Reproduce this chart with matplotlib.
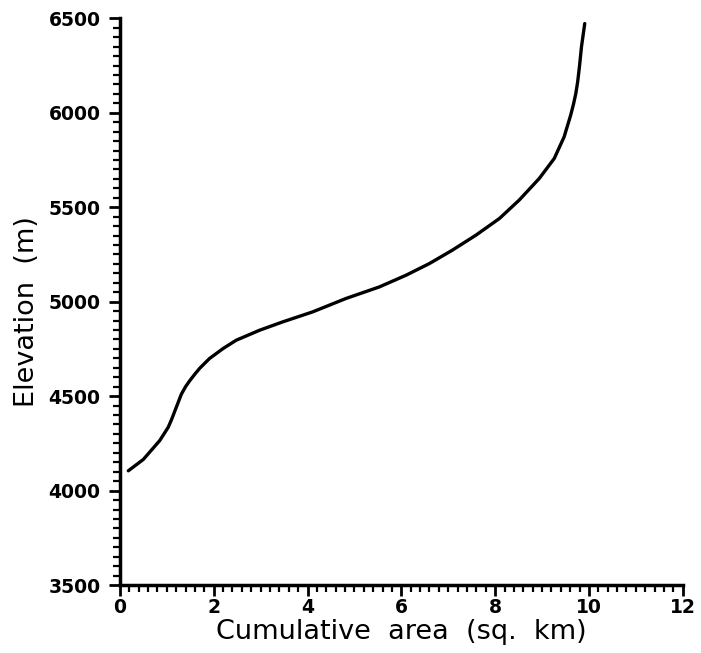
import matplotlib
matplotlib.use("Agg")
import matplotlib.pyplot as plt
from matplotlib.ticker import MultipleLocator

# hypsometric curve
area_km2 = [0.18, 0.50, 0.64, 0.85, 1.03, 1.10, 1.17, 1.24, 1.31, 1.40, 1.49,
            1.60, 1.70, 1.91, 2.20, 2.48, 2.98, 3.47, 4.11, 4.82, 5.53, 6.10,
            6.60, 7.09, 7.59, 8.09, 8.51, 8.94, 9.26, 9.47, 9.61, 9.67, 9.72,
            9.76, 9.80, 9.84, 9.91]
elevation_m = [4105, 4165, 4205, 4265, 4335, 4375, 4420, 4465, 4510, 4550, 4582,
               4617, 4647, 4699, 4752, 4796, 4849, 4893, 4946, 5017, 5078, 5140,
               5202, 5273, 5352, 5440, 5537, 5652, 5758, 5872, 5987, 6045, 6102,
               6165, 6250, 6348, 6472]

x_ticks = [0, 2, 4, 6, 8, 10, 12]
y_ticks = [3500, 4000, 4500, 5000, 5500, 6000, 6500]

plt.rcParams["font.family"] = ["DejaVu Sans"]
plt.rcParams["font.weight"] = "bold"

fig = plt.figure(figsize=(7.01, 6.53), dpi=100)
ax = fig.add_axes([0.171, 0.104, 0.803, 0.868])

ax.plot(area_km2, elevation_m, color="black", lw=2.4,
        solid_capstyle="round", solid_joinstyle="round")

ax.set_xlim(0, 12)
ax.set_ylim(3500, 6500)
ax.set_xticks(x_ticks)
ax.set_yticks(y_ticks)
ax.xaxis.set_minor_locator(MultipleLocator(0.2))
ax.yaxis.set_minor_locator(MultipleLocator(50))

for side in ("top", "right"):
    ax.spines[side].set_visible(False)
for side in ("left", "bottom"):
    ax.spines[side].set_linewidth(2.5)

ax.tick_params(which="major", direction="out", length=8, width=2, labelsize=13.5)
ax.tick_params(which="minor", direction="out", length=5, width=1.6)
ax.tick_params(axis="x", which="major", pad=1)
ax.tick_params(axis="y", which="major", pad=6)

ax.set_xlabel("Cumulative  area  (sq.  km)", fontsize=19.5, fontweight="normal", labelpad=2)
ax.set_ylabel("Elevation  (m)", fontsize=19.5, fontweight="normal")
ax.yaxis.set_label_coords(-0.142, 0.483)

fig.savefig("out.png", dpi=100)
